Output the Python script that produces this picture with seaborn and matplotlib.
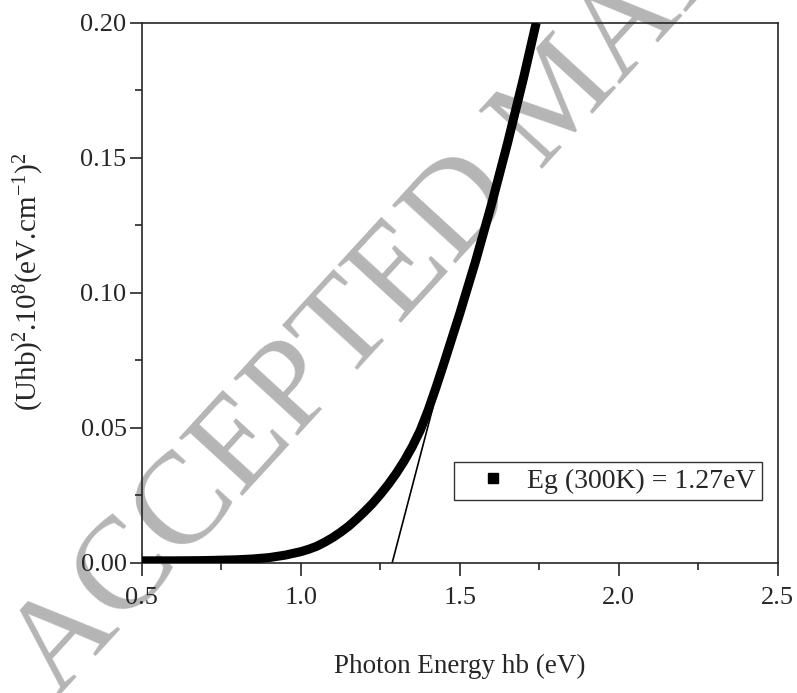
import matplotlib
matplotlib.use('Agg')
import matplotlib.pyplot as plt
import seaborn as sns
from matplotlib.lines import Line2D
from matplotlib.ticker import MultipleLocator

sns.set_style('ticks')
plt.rcParams['font.family'] = ['Liberation Serif', 'DejaVu Serif']
plt.rcParams['mathtext.fontset'] = 'custom'
plt.rcParams['mathtext.rm'] = 'Liberation Serif'
plt.rcParams['mathtext.it'] = 'Liberation Serif:italic'
plt.rcParams['mathtext.default'] = 'regular'

# Tauc plot data
energy = [0.50, 0.60, 0.70, 0.80, 0.85, 0.90, 0.95, 1.00, 1.025, 1.05, 1.075,
          1.10, 1.125, 1.15, 1.175, 1.20, 1.225, 1.25, 1.275, 1.30, 1.325,
          1.35, 1.375, 1.40, 1.425, 1.45, 1.50, 1.55, 1.60, 1.65, 1.70, 1.74]
alpha_sq = [0.0008, 0.0008, 0.0009, 0.0012, 0.0015, 0.0020, 0.0029, 0.0042,
            0.0051, 0.0062, 0.0077, 0.0094, 0.0114, 0.0136, 0.0162, 0.0190,
            0.0220, 0.0254, 0.0291, 0.0332, 0.0378, 0.0430, 0.0490, 0.0565,
            0.0650, 0.0740, 0.0925, 0.1120, 0.1330, 0.1555, 0.1795, 0.2000]

# linear extrapolation to the band gap
fit_x = [1.287, 1.415]
fit_y = [0.0, 0.0575]

legend_label = 'Eg (300K) = 1.27eV'
watermark = 'ACCEPTED MANUSCRIPT'

fig = plt.figure(figsize=(7.97, 6.93), dpi=100)
ax = fig.add_axes([0.178, 0.1876, 0.798, 0.7794])
ax.patch.set_alpha(0)

fig.text(0.072, -0.008, watermark, rotation=47.5, rotation_mode='anchor',
         ha='left', va='baseline', fontsize=95, color='#b5b5b5', zorder=-5)

sns.lineplot(x=energy, y=alpha_sq, ax=ax, color='black', linewidth=6.5,
             solid_capstyle='butt', solid_joinstyle='round', zorder=3)
sns.lineplot(x=fit_x, y=fit_y, ax=ax, color='black', linewidth=1.2, zorder=2)

ax.set_xlim(0.5, 2.5)
ax.set_ylim(0.0, 0.20)
ax.xaxis.set_major_locator(MultipleLocator(0.5))
ax.xaxis.set_minor_locator(MultipleLocator(0.25))
ax.yaxis.set_major_locator(MultipleLocator(0.05))
ax.yaxis.set_minor_locator(MultipleLocator(0.025))
ax.xaxis.set_major_formatter('{x:.1f}')
ax.yaxis.set_major_formatter('{x:.2f}')

ax.tick_params(which='major', direction='out', length=9, width=1.2,
               labelsize=19, top=False, right=False)
ax.tick_params(axis='x', which='major', pad=8)
ax.tick_params(axis='y', which='major', pad=2)
ax.tick_params(which='minor', direction='out', length=5, width=1.2,
               top=False, right=False)
for sp in ax.spines.values():
    sp.set_linewidth(1.2)
    sp.set_visible(True)

ax.set_xlabel('Photon Energy hb (eV)', fontsize=19.5)
ax.set_ylabel('(Uhb)$^2$.10$^8$(eV.cm$^{-1}$)$^2$', fontsize=21)
ax.xaxis.set_label_coords(0.5, -0.168)
ax.yaxis.set_label_coords(-0.151, 0.52)

handle = Line2D([], [], linestyle='none', marker='s', color='black',
                markersize=7)
leg = ax.legend([handle], [legend_label], loc='upper right',
                bbox_to_anchor=(0.975, 0.187), borderaxespad=0,
                fontsize=20, frameon=True, fancybox=False, edgecolor='black',
                handlelength=2.37, handletextpad=0.05, borderpad=0.22)
leg.get_frame().set_linewidth(1.0)

fig.savefig('out.png', dpi=100)
